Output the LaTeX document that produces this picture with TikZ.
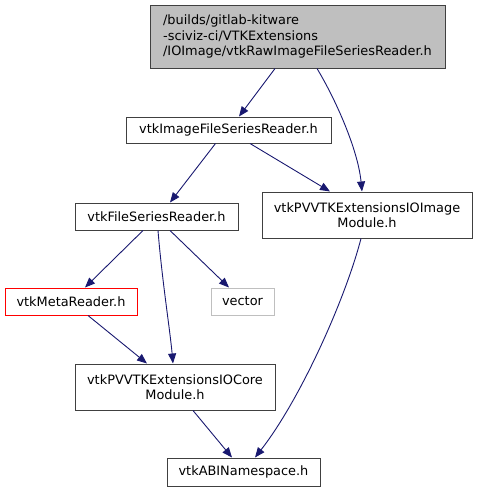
\documentclass[tikz,border=0pt]{standalone}
\usepackage{fontspec}
\setmainfont{DejaVu Sans}
\usetikzlibrary{arrows.meta}
\definecolor{edgeblue}{HTML}{191970}
\definecolor{topfill}{HTML}{BFBFBF}
\definecolor{vecgray}{HTML}{BFBFBF}
\definecolor{border}{HTML}{404040}
\begin{document}
\begin{tikzpicture}[x=1pt,y=-1pt,
  box/.style={draw=border, line width=1pt, fill=white, inner sep=0pt, align=center,
    font=\fontsize{12.9}{15.5}\selectfont},
  link/.style={draw=edgeblue, line width=0.9pt, -{Triangle[length=10pt,width=8pt]}}]
\useasboundingbox (0,0) rectangle (479,493);

\node[box, fill=topfill, align=left, minimum width=295pt, minimum height=63pt] (top) at (297.5,36.5)
  {/builds/gitlab-kitware\\-sciviz-ci/VTKExtensions\\/IOImage/vtkRawImageFileSeriesReader.h};
\node[box, minimum width=205pt, minimum height=26pt] (img) at (228.5,130) {vtkImageFileSeriesReader.h};
\node[box, minimum width=163pt, minimum height=27pt] (fsr) at (156.5,216.5) {vtkFileSeriesReader.h};
\node[box, minimum width=210pt, minimum height=46pt] (ioimg) at (367,215) {vtkPVVTKExtensionsIOImage\\Module.h};
\node[box, draw=red, minimum width=132pt, minimum height=27pt] (meta) at (71,301.5) {vtkMetaReader.h};
\node[box, draw=vecgray, minimum width=63pt, minimum height=27pt] (vec) at (242.5,301.5) {vector};
\node[box, minimum width=200pt, minimum height=46pt] (iocore) at (175,387) {vtkPVVTKExtensionsIOCore\\Module.h};
\node[box, minimum width=153pt, minimum height=28pt] (abi) at (243.5,472) {vtkABINamespace.h};

\draw[link] ([xshift=-22.5pt]top.south) -- ([xshift=10.5pt]img.north);
\draw[link] ([xshift=19.5pt]top.south) .. controls (336,100) and (358,150) .. ([xshift=-5pt]ioimg.north);
\draw[link] ([xshift=-13pt]img.south) -- ([xshift=13.5pt]fsr.north);
\draw[link] ([xshift=21.5pt]img.south) -- ([xshift=-37pt]ioimg.north);
\draw[link] ([xshift=-13.5pt]fsr.south) -- ([xshift=14pt]meta.north);
\draw[link] ([xshift=1.5pt]fsr.south) .. controls (162,280) and (170,330) .. ([xshift=-2pt]iocore.north);
\draw[link] ([xshift=13.5pt]fsr.south) -- ([xshift=-13.5pt]vec.north);
\draw[link] ([xshift=17pt]meta.south) -- ([xshift=-28pt]iocore.north);
\draw[link] ([xshift=18pt]iocore.south) -- ([xshift=-11.5pt]abi.north);
\draw[link] ([xshift=-6pt]ioimg.south) .. controls (345,300) and (300,400) .. ([xshift=11.5pt]abi.north);
\end{tikzpicture}
\end{document}
